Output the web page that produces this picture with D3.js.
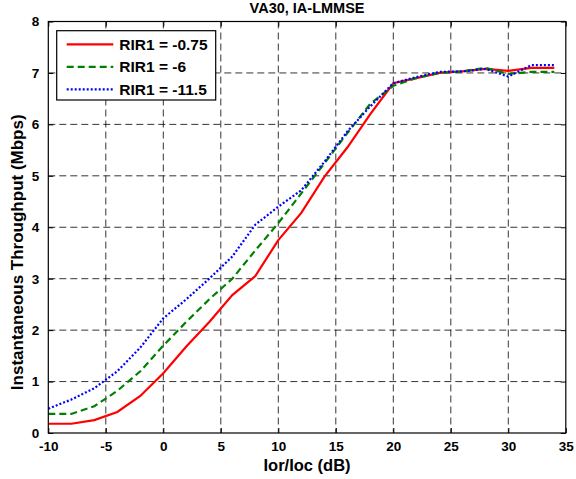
<!DOCTYPE html>
<html><head><meta charset="utf-8">
<script src="https://cdn.jsdelivr.net/npm/d3@7"></script>
<style>
html,body{margin:0;padding:0;background:#fff;}
svg{display:block;}
text{font-family:"Liberation Sans",Arial,sans-serif;font-weight:bold;fill:#000;}
</style></head>
<body>
<svg id="chart" width="576" height="479"></svg>
<script>
const xValues = [-10,-8,-6,-4,-2,0,2,4,6,8,10,12,14,16,18,20,22,24,26,28,30,32,34];
const rir075 = [0.18,0.18,0.25,0.41,0.72,1.16,1.68,2.16,2.68,3.05,3.75,4.28,4.98,5.55,6.2,6.8,6.9,7.0,7.03,7.08,7.04,7.1,7.1];
const rir6   = [0.37,0.37,0.52,0.82,1.2,1.7,2.16,2.6,3.0,3.55,4.08,4.66,5.24,5.83,6.4,6.75,6.9,7.0,7.03,7.1,6.98,7.02,7.02];
const rir115 = [0.47,0.65,0.87,1.2,1.66,2.23,2.6,3.0,3.43,4.05,4.4,4.72,5.27,5.86,6.35,6.8,6.92,7.02,7.03,7.08,6.93,7.15,7.15];
const seriesNames = ["RIR1 = -0.75","RIR1 = -6","RIR1 = -11.5"];
const xTicks = [-10,-5,0,5,10,15,20,25,30,35];
const yTicks = [0,1,2,3,4,5,6,7,8];
const titleText = "VA30, IA-LMMSE";
const xLabel = "Ior/Ioc (dB)";
const yLabel = "Instantaneous Throughput (Mbps)";

const series = [
  {name: seriesNames[0], values: rir075, color: "#ff0000", dash: null},
  {name: seriesNames[1], values: rir6, color: "#008000", dash: "7,4"},
  {name: seriesNames[2], values: rir115, color: "#0000ff", dash: "2,2"}
];

const L = 48.3, R = 565.8, T = 21.5, B = 433;
const svg = d3.select("#chart");
const x = d3.scaleLinear().domain([-10,35]).range([L,R]);
const y = d3.scaleLinear().domain([0,8]).range([B,T]);
const fmt = d => String(d);

// grid
const grid = svg.append("g");
grid.selectAll("line.vg").data(xTicks.slice(1,-1)).enter().append("line")
  .attr("x1",d=>x(d)).attr("x2",d=>x(d)).attr("y1",T).attr("y2",B)
  .attr("stroke","#000").attr("stroke-width",0.8).attr("stroke-dasharray","7,4");
grid.selectAll("line.hg").data(yTicks.slice(1,-1)).enter().append("line")
  .attr("x1",L).attr("x2",R).attr("y1",d=>y(d)).attr("y2",d=>y(d))
  .attr("stroke","#000").attr("stroke-width",0.8).attr("stroke-dasharray","7,4");

// axes
const tickLen = 5;
const xAxisB = d3.axisBottom(x).tickValues(xTicks).tickSize(-tickLen).tickPadding(8).tickFormat(fmt);
const xAxisT = d3.axisTop(x).tickValues(xTicks).tickSize(-tickLen).tickFormat("");
const yAxisL = d3.axisLeft(y).tickValues(yTicks).tickSize(-tickLen).tickPadding(9).tickFormat(fmt);
const yAxisR = d3.axisRight(y).tickValues(yTicks).tickSize(-tickLen).tickFormat("");

function style(g){
  g.select(".domain").remove();
  g.selectAll(".tick line").attr("stroke","#000");
  g.selectAll(".tick text").attr("font-size","13.5px").attr("font-family","'Liberation Sans',Arial,sans-serif").attr("font-weight","bold").attr("fill","#000");
}
svg.append("g").attr("transform",`translate(0,${B})`).call(xAxisB).call(style);
svg.append("g").attr("transform",`translate(0,${T})`).call(xAxisT).call(style);
svg.append("g").attr("transform",`translate(${L},0)`).call(yAxisL).call(style);
svg.append("g").attr("transform",`translate(${R},0)`).call(yAxisR).call(style);

// lines
const line = d3.line().x((d,i)=>x(xValues[i])).y(d=>y(d));
series.forEach(s=>{
  svg.append("path").datum(s.values).attr("d",line)
    .attr("fill","none").attr("stroke",s.color).attr("stroke-width",2.2)
    .attr("stroke-dasharray",s.dash);
});

// box
svg.append("rect").attr("x",L).attr("y",T).attr("width",R-L).attr("height",B-T)
  .attr("fill","none").attr("stroke","#000").attr("stroke-width",1.2);

// legend
const lg = svg.append("g");
lg.append("rect").attr("x",56.7).attr("y",30.7).attr("width",159).attr("height",69.3)
  .attr("fill","#fff").attr("stroke","#000").attr("stroke-width",1.2);
series.forEach((s,i)=>{
  const yy = 44.3 + i*22.5;
  lg.append("line").attr("x1",66.7).attr("x2",113.3).attr("y1",yy).attr("y2",yy)
    .attr("stroke",s.color).attr("stroke-width",2.2).attr("stroke-dasharray",s.dash);
  lg.append("text").attr("x",119.3).attr("y",yy+5.5).attr("font-size","15.5px").text(s.name);
});

// titles
svg.append("text").attr("x",(L+R)/2).attr("y",13).attr("text-anchor","middle").attr("font-size","14.5px").text(titleText);
svg.append("text").attr("x",(L+R)/2).attr("y",471).attr("text-anchor","middle").attr("font-size","16.5px").text(xLabel);
svg.append("text").attr("transform",`translate(23,${(T+B)/2 + 25}) rotate(-90)`).attr("text-anchor","middle").attr("font-size","17px").text(yLabel);
</script>
</body></html>
